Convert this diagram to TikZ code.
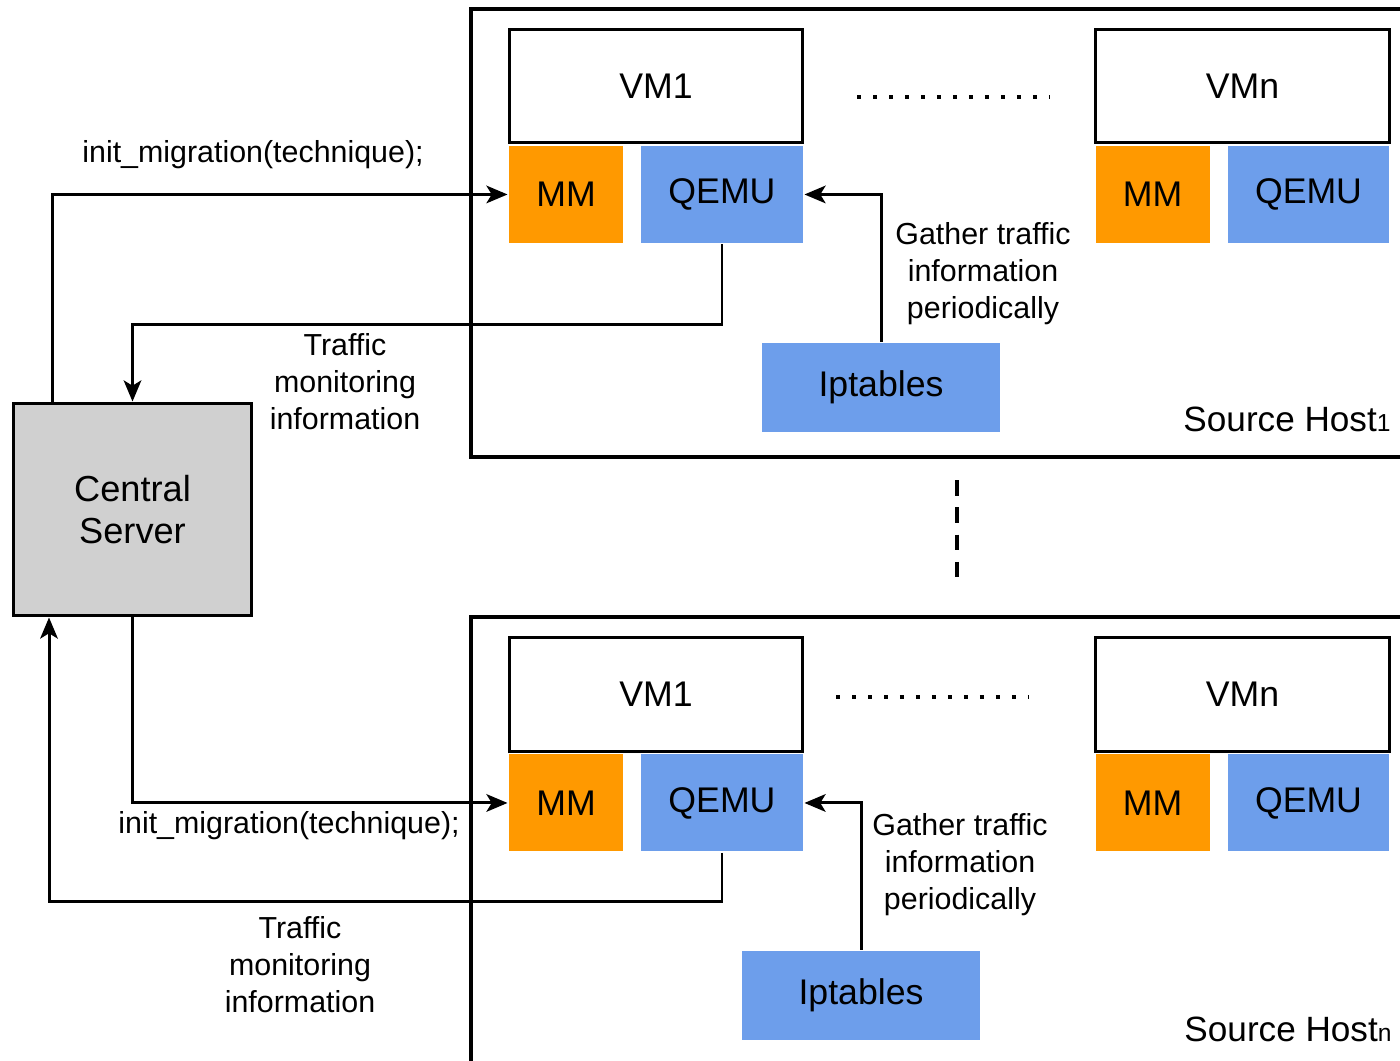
\documentclass[tikz,border=0pt]{standalone}
\usepackage{fontspec}
\setmainfont{Liberation Sans}
\usepackage{tikz}
\usetikzlibrary{arrows.meta, positioning, calc}
\definecolor{mmorange}{RGB}{255,153,0}
\definecolor{qemublue}{RGB}{109,158,235}
\definecolor{servergray}{RGB}{208,208,208}

\begin{document}
\begin{tikzpicture}[
  x=0.02cm, y=-0.02cm,
  line width=1.7pt,
  vm/.style={rectangle, draw=black, fill=white, minimum width=5.88cm, minimum height=2.28cm, inner sep=0pt, font=\fontsize{20.3}{24}\selectfont},
  mm/.style={rectangle, fill=mmorange, minimum width=2.28cm, minimum height=1.94cm, inner sep=0pt, font=\fontsize{20.3}{24}\selectfont},
  qemu/.style={rectangle, fill=qemublue, minimum width=3.24cm, minimum height=1.94cm, inner sep=0pt, font=\fontsize{20.3}{24}\selectfont},
  ipt/.style={rectangle, fill=qemublue, minimum width=4.76cm, minimum height=1.78cm, inner sep=0pt, font=\fontsize{20.3}{24}\selectfont},
  server/.style={rectangle, draw=black, fill=servergray, minimum width=4.78cm, minimum height=4.26cm, inner sep=0pt, align=center, font=\fontsize{20.6}{24}\selectfont},
  lbl/.style={align=center, inner sep=0pt, font=\fontsize{17.3}{21}\selectfont},
  hostlbl/.style={anchor=base east, inner sep=0pt, font=\fontsize{20}{24}\selectfont},
  hostbox/.style={draw=black, line width=2pt},
  dotrow/.style={line width=0.08cm, dash pattern=on 0.08cm off 0.24cm},
  sepline/.style={line width=0.08cm, dash pattern=on 0.31cm off 0.236cm},
  arrow/.style={-{Stealth[length=12pt, width=10pt, inset=3pt]}, line width=1.7pt}
]
\useasboundingbox (0,0) rectangle (1400,1061);
\clip (0,0) rectangle (1400,1061);

% source hosts
\draw[hostbox] (471,9) rectangle (1430,457);
\draw[hostbox] (471,617) rectangle (1430,1090);

% host 1
\node[vm] (vm1a) at (656,86) {VM1};
\node[mm, below=0cm of vm1a.south west, anchor=north west] (mm1a) {MM};
\node[qemu, below=0cm of vm1a.south east, anchor=north east] (qemu1a) {QEMU};
\node[vm] (vmna) at (1242.5,86) {VMn};
\node[mm, below=0cm of vmna.south west, anchor=north west] (mmna) {MM};
\node[qemu, below=0cm of vmna.south east, anchor=north east] (qemuna) {QEMU};
\node[ipt] (ipt1) at (881,387.5) {\raisebox{-2pt}{Iptables}};
\coordinate (dots1s) at (857,97);
\coordinate (dots1e) at (1050,97);
\draw[dotrow] (dots1s) -- (dots1e);
\node[lbl] (gather1) at (983,274) {Gather traffic\\information\\periodically};
\node[hostlbl] (host1) at (1392,431) {Source Host\raisebox{-0.5pt}{\fontsize{14}{14}\selectfont 1}};

% host n
\node[vm] (vm1b) at (656,694.5) {VM1};
\node[mm, below=0cm of vm1b.south west, anchor=north west] (mm1b) {MM};
\node[qemu, below=0cm of vm1b.south east, anchor=north east] (qemu1b) {QEMU};
\node[vm] (vmnb) at (1242.5,694.5) {VMn};
\node[mm, below=0cm of vmnb.south west, anchor=north west] (mmnb) {MM};
\node[qemu, below=0cm of vmnb.south east, anchor=north east] (qemunb) {QEMU};
\node[ipt] (ipt2) at (861,995.5) {\raisebox{-2pt}{Iptables}};
\coordinate (dots2s) at (836,697);
\coordinate (dots2e) at (1029,697);
\draw[dotrow] (dots2s) -- (dots2e);
\node[lbl] (gather2) at (960,865) {Gather traffic\\information\\periodically};
\node[hostlbl] (hostn) at (1393,1041) {Source Host\raisebox{-0.5pt}{\fontsize{14}{14}\selectfont n}};

% more hosts
\coordinate (sepTop) at (957,480);
\coordinate (sepBot) at (957,578);
\draw[sepline] (sepTop) -- (sepBot);

% central server
\node[server] (central) at (132.5,509.5) {Central\\Server};

\node[lbl] (init1) at (253,155) {init\_migration(technique);};
\node[lbl] (traffic1) at (345,382) {Traffic\\monitoring\\information};
\node[lbl] (init2) at (289,826) {init\_migration(technique);};
\node[lbl] (traffic2) at (300,965) {Traffic\\monitoring\\information};

\draw[arrow] (ipt1.north) |- (qemu1a.east);
\draw[arrow] (qemu1a.south) -- ++(0,80) -| (central.north);
\draw[arrow] ([xshift=-1.6cm]central.north) |- (mm1a.west);
\draw[arrow] (central.south) |- (mm1b.west);
\draw[arrow] (qemu1b.south) -- ++(0,49) -| ([xshift=-1.67cm]central.south);
\draw[arrow] (ipt2.north) |- (qemu1b.east);
\end{tikzpicture}
\end{document}
